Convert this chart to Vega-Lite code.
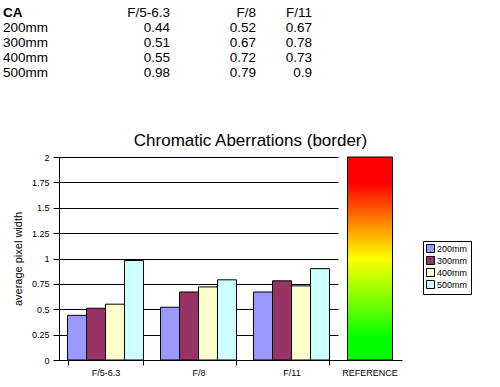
{
  "$schema": "https://vega.github.io/schema/vega-lite/v6.json",
  "background": "white",
  "padding": {"left": 3, "top": 5, "right": 5, "bottom": 2},
  "bounds": "flush",
  "spacing": 77,
  "config": {
    "font": "Liberation Sans",
    "view": {"stroke": null},
    "axis": {
      "domainColor": "black",
      "tickColor": "black",
      "labelColor": "black",
      "titleColor": "black",
      "gridColor": "black",
      "gridOpacity": 1,
      "labelFont": "Liberation Sans",
      "titleFont": "Liberation Sans"
    }
  },
  "datasets": {
    "ca": [
      {"lens": "200mm", "aperture": "F/5-6.3", "value": 0.44},
      {"lens": "200mm", "aperture": "F/8", "value": 0.52},
      {"lens": "200mm", "aperture": "F/11", "value": 0.67},
      {"lens": "300mm", "aperture": "F/5-6.3", "value": 0.51},
      {"lens": "300mm", "aperture": "F/8", "value": 0.67},
      {"lens": "300mm", "aperture": "F/11", "value": 0.78},
      {"lens": "400mm", "aperture": "F/5-6.3", "value": 0.55},
      {"lens": "400mm", "aperture": "F/8", "value": 0.72},
      {"lens": "400mm", "aperture": "F/11", "value": 0.73},
      {"lens": "500mm", "aperture": "F/5-6.3", "value": 0.98},
      {"lens": "500mm", "aperture": "F/8", "value": 0.79},
      {"lens": "500mm", "aperture": "F/11", "value": 0.9}
    ],
    "ref": [{"column": "REFERENCE", "value": 2}]
  },
  "vconcat": [
    {
      "width": 253,
      "height": 75,
      "data": {"name": "ca"},
      "layer": [
        {
          "mark": {"type": "text", "align": "right", "baseline": "middle", "fontSize": 13.5, "color": "black",
                   "dx": {"expr": "datum.aperture == 'F/5-6.3' ? 64 : (datum.aperture == 'F/8' ? 47 : 0)"}},
          "encoding": {
            "x": {"field": "aperture", "type": "nominal", "scale": {"type": "point", "domain": ["label", "F/5-6.3", "F/8", "F/11"], "range": [-56, 253], "padding": 0}, "axis": null},
            "y": {"field": "lens", "type": "nominal", "scale": {"type": "band", "domain": ["CA", "200mm", "300mm", "400mm", "500mm"], "paddingInner": 0, "paddingOuter": 0}, "axis": null},
            "text": {"field": "value", "type": "quantitative", "format": "~g"}
          }
        },
        {
          "transform": [{"aggregate": [{"op": "count", "as": "n"}], "groupby": ["aperture"]}],
          "mark": {"type": "text", "align": "right", "baseline": "middle", "fontSize": 13.5, "color": "black",
                   "dx": {"expr": "datum.aperture == 'F/5-6.3' ? 64 : (datum.aperture == 'F/8' ? 47 : 0)"}},
          "encoding": {
            "x": {"field": "aperture", "type": "nominal"},
            "y": {"datum": "CA", "type": "nominal"},
            "text": {"field": "aperture", "type": "nominal"}
          }
        },
        {
          "transform": [{"aggregate": [{"op": "count", "as": "n"}], "groupby": ["lens"]}],
          "mark": {"type": "text", "align": "left", "baseline": "middle", "fontSize": 13.5, "color": "black"},
          "encoding": {
            "x": {"datum": "label", "type": "nominal"},
            "y": {"field": "lens", "type": "nominal"},
            "text": {"field": "lens", "type": "nominal"}
          }
        },
        {
          "data": {"values": [{"t": "CA"}]},
          "mark": {"type": "text", "align": "left", "baseline": "middle", "fontSize": 13.5, "fontWeight": "bold", "color": "black"},
          "encoding": {
            "x": {"datum": "label", "type": "nominal"},
            "y": {"datum": "CA", "type": "nominal"},
            "text": {"field": "t", "type": "nominal"}
          }
        }
      ]
    },
    {
      "title": {"text": "Chromatic Aberrations (border)", "fontSize": 17, "fontWeight": "normal", "anchor": "middle", "frame": "group", "font": "Liberation Sans", "color": "black", "offset": 3, "dx": 20},
      "width": 343,
      "height": 203,
      "layer": [
        {
          "data": {"name": "ca"},
          "mark": {"type": "bar", "stroke": "black", "strokeWidth": 1},
          "encoding": {
            "x": {"field": "aperture", "type": "nominal", "sort": ["F/5-6.3", "F/8", "F/11"],
                  "scale": {"range": [0, 279], "paddingInner": 0.183, "paddingOuter": 0.0915},
                  "axis": {"title": null, "orient": "bottom", "labelAngle": 0, "tickBand": "extent", "tickSize": 5, "labelFontSize": 9, "labelPadding": 3}},
            "xOffset": {"field": "lens", "type": "nominal", "scale": {"paddingInner": 0, "paddingOuter": 0}},
            "y": {"field": "value", "type": "quantitative", "scale": {"domain": [0, 2]},
                  "axis": {"title": "average pixel width", "values": [0, 0.25, 0.5, 0.75, 1, 1.25, 1.5, 1.75, 2], "format": ".3~g",
                           "tickSize": 6, "labelPadding": 4, "labelFontSize": 9, "titleFontSize": 11, "titleFontWeight": "normal", "titlePadding": 8, "grid": true}},
            "color": {"field": "lens", "type": "nominal",
                      "scale": {"domain": ["200mm", "300mm", "400mm", "500mm"], "range": ["#9999ff", "#993366", "#ffffcc", "#ccffff"]},
                      "legend": {"orient": "none", "legendX": 364, "legendY": 236, "title": null, "strokeColor": "black", "fillColor": "white",
                                 "padding": 3, "symbolType": "square", "symbolSize": 64, "symbolStrokeColor": "black", "symbolStrokeWidth": 1,
                                 "labelFontSize": 9, "labelFont": "Liberation Sans", "labelColor": "black", "rowPadding": -1, "labelOffset": 2, "symbolOpacity": 1}}
          }
        },
        {
          "data": {"name": "ref"},
          "mark": {"type": "bar", "stroke": "black", "strokeWidth": 1,
                   "fill": {"gradient": "linear", "x1": 0, "y1": 1, "x2": 0, "y2": 0,
                            "stops": [
                              {"offset": 0, "color": "#00ff00"},
                              {"offset": 0.1, "color": "#00ff00"},
                              {"offset": 0.5, "color": "#ffff00"},
                              {"offset": 0.87, "color": "#ff0000"},
                              {"offset": 1, "color": "#ff0000"}
                            ]}},
          "encoding": {
            "x": {"field": "column", "type": "nominal", "scale": {"range": [279, 343], "paddingInner": 0, "paddingOuter": 0.211},
                  "axis": {"title": null, "orient": "bottom", "labelAngle": 0, "ticks": false, "labelFontSize": 9, "labelPadding": 8}},
            "y": {"field": "value", "type": "quantitative", "scale": {"domain": [0, 2]},
                  "axis": {"title": "average pixel width", "values": [0, 0.25, 0.5, 0.75, 1, 1.25, 1.5, 1.75, 2], "format": ".3~g",
                           "tickSize": 6, "labelPadding": 4, "labelFontSize": 9, "titleFontSize": 11, "titleFontWeight": "normal", "titlePadding": 8, "grid": true}}
          }
        }
      ],
      "resolve": {"scale": {"x": "independent"}, "axis": {"x": "independent"}}
    }
  ]
}
